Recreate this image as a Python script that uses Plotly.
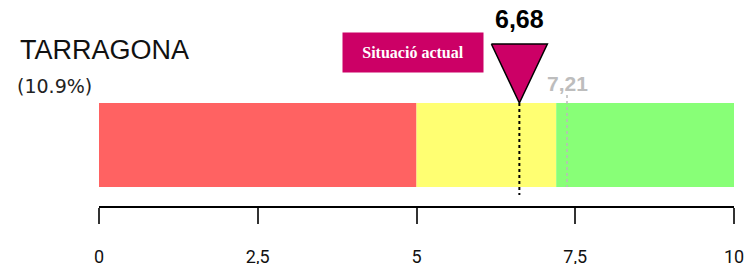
import plotly.graph_objects as go

# ---- data ----
segment_starts = [0, 5, 7.2]
segment_ends = [5, 7.2, 10]
segment_colors = ["#FF6262", "#FFFF72", "#88FF77"]
current_value = 6.62
current_label = "6,68"
reference_value = 7.37
reference_label = "7,21"
tick_vals = [0, 2.5, 5, 7.5, 10]
tick_text = ["0", "2,5", "5", "7,5", "10"]
title_text = "TARRAGONA"
subtitle_text = "(10.9%)"
badge_text = "Situació actual"

W, H = 749, 264
ML, MR, MT, MB = 99, 15, 0, 58
PW = W - ML - MR
PH = H - MT - MB
BAR_PX = 84
BAR_BOTTOM_PX = 19  # distance from axis line to bar bottom
units = PH / BAR_PX
y0 = -0.5 - BAR_BOTTOM_PX / BAR_PX
y1 = y0 + units

def px(x):
    return (x - ML) / PW

def py(y):
    return (MT + PH - y) / PH

fig = go.Figure()

widths = [e - s for s, e in zip(segment_starts, segment_ends)]
fig.add_trace(go.Bar(
    x=widths, base=segment_starts, y=[0, 0, 0], orientation="h",
    marker=dict(color=segment_colors, line=dict(width=0)),
    width=1, showlegend=False, hoverinfo="skip"))

# reference dotted line
fig.add_trace(go.Scatter(
    x=[reference_value, reference_value], y=[0.5 + 8 / BAR_PX, -0.5],
    mode="lines", line=dict(color="#BBBBBB", width=1.5, dash="dot"),
    showlegend=False, hoverinfo="skip"))

# current dotted line
fig.add_trace(go.Scatter(
    x=[current_value, current_value], y=[0.5, -0.5 - 8 / BAR_PX],
    mode="lines", line=dict(color="black", width=2, dash="dot"),
    showlegend=False, hoverinfo="skip"))

# triangle marker
half_w = 28 / (PW / 10)
tri_top = 0.5 + 59 / BAR_PX
fig.add_trace(go.Scatter(
    x=[current_value - half_w, current_value + half_w, current_value, current_value - half_w],
    y=[tri_top, tri_top, 0.5, tri_top],
    mode="lines", fill="toself", fillcolor="#CC0066",
    line=dict(color="black", width=1.5),
    showlegend=False, hoverinfo="skip"))

annotations = [
    dict(text=title_text, x=px(18), y=py(50), xref="paper", yref="paper",
         xanchor="left", yanchor="middle", showarrow=False,
         font=dict(family="Liberation Sans, Arial", size=27, color="#111111")),
    dict(text=subtitle_text, x=px(15), y=py(86), xref="paper", yref="paper",
         xanchor="left", yanchor="middle", showarrow=False,
         font=dict(family="DejaVu Sans", size=19, color="#222222")),
    dict(text="<b>" + badge_text + "</b>", x=px(413), y=py(52), xref="paper", yref="paper",
         xanchor="center", yanchor="middle", showarrow=False,
         width=138, height=37, bgcolor="#CC0066", borderpad=1,
         font=dict(family="Liberation Serif, Times New Roman", size=16, color="white")),
    dict(text="<b>" + current_label + "</b>", x=current_value, y=py(19), xref="x", yref="paper",
         xanchor="center", yanchor="middle", showarrow=False,
         font=dict(family="Liberation Sans, Arial", size=25, color="black")),
    dict(text="<b>" + reference_label + "</b>", x=reference_value, y=py(83), xref="x", yref="paper",
         xanchor="center", yanchor="middle", showarrow=False,
         font=dict(family="Liberation Sans, Arial", size=21, color="#BDBDBD")),
]

fig.update_layout(
    width=W, height=H,
    margin=dict(l=ML, r=MR, t=MT, b=MB, pad=0, autoexpand=False),
    paper_bgcolor="white", plot_bgcolor="white",
    barmode="overlay",
    annotations=annotations,
    xaxis=dict(range=[0, 10], tickvals=tick_vals, ticktext=tick_text, automargin=False,
               showgrid=False, zeroline=False, showline=True, linecolor="black", linewidth=1.5,
               ticks="outside", ticklen=16, tickwidth=2, tickcolor="#333333",
               ticklabelstandoff=18,
               tickfont=dict(family="Roboto, Liberation Sans", size=18, color="#111111"),
               fixedrange=True),
    yaxis=dict(range=[y0, y1], visible=False, automargin=False, fixedrange=True),
)

fig.write_html("out.html", config={"displayModeBar": False},
               post_script="document.body.style.margin='0';document.body.style.overflow='hidden';")
